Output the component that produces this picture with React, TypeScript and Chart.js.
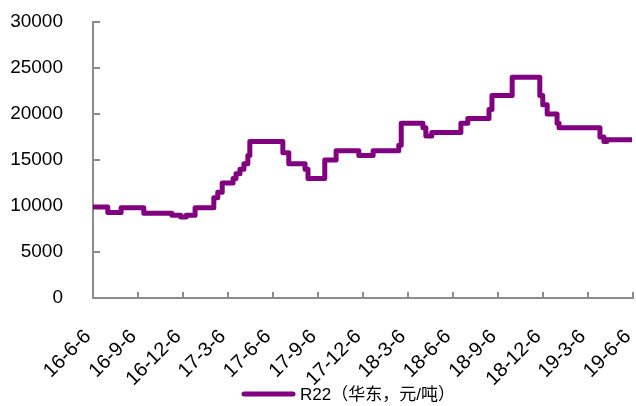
import { useEffect, useRef } from "react";
import { Chart, registerables } from "chart.js";

Chart.register(...registerables);

const START_DATE = "2016-06-06";
const END_DATE = "2019-06-06";

// dates where the price changes (value holds until the next date)
const changeDates = [
  "2016-06-06", "2016-07-06", "2016-08-02", "2016-09-17", "2016-11-13", "2016-12-01",
  "2016-12-12", "2016-12-30", "2017-02-06", "2017-02-14", "2017-02-23", "2017-03-17",
  "2017-03-23", "2017-03-31", "2017-04-08", "2017-04-16", "2017-04-20", "2017-06-26",
  "2017-07-08", "2017-08-10", "2017-08-16", "2017-09-19", "2017-10-12", "2017-11-27",
  "2017-12-26", "2018-02-16", "2018-02-21", "2018-04-06", "2018-04-12", "2018-04-24",
  "2018-06-22", "2018-07-06", "2018-08-18", "2018-08-24", "2018-10-04", "2018-11-29",
  "2018-12-05", "2018-12-14", "2019-01-03", "2019-01-07", "2019-03-31", "2019-04-08",
  "2019-04-14", "2019-06-04",
];

const r22Prices = [
  9900, 9300, 9800, 9200, 9000, 8800,
  9000, 9800, 10900, 11500, 12500, 13000,
  13500, 14000, 14600, 15500, 17000, 15800,
  14600, 14000, 13000, 15000, 16000, 15500,
  16000, 16600, 19000, 18500, 17600, 18000,
  19000, 19500, 20500, 22000, 24000, 22000,
  21000, 20000, 19000, 18500, 17500, 17000,
  17200, 17200,
];

const tickDates = [
  "2016-06-06", "2016-09-06", "2016-12-06", "2017-03-06", "2017-06-06", "2017-09-06",
  "2017-12-06", "2018-03-06", "2018-06-06", "2018-09-06", "2018-12-06", "2019-03-06",
  "2019-06-06",
];
const tickLabels = [
  "16-6-6", "16-9-6", "16-12-6", "17-3-6", "17-6-6", "17-9-6",
  "17-12-6", "18-3-6", "18-6-6", "18-9-6", "18-12-6", "19-3-6", "19-6-6",
];

const seriesName = "R22（华东，元/吨）";
const Y_MIN = 0;
const Y_MAX = 30000;
const Y_STEP = 5000;

const LINE_COLOR = "#800080";
const AXIS_COLOR = "#8c8c8c";
const FONT_FAMILY = "'Liberation Sans', Arial, 'Noto Sans CJK SC', sans-serif";

const dayOf = (d: string) => (Date.parse(d) - Date.parse(START_DATE)) / 86400000;

const innerTicksPlugin = {
  id: "innerTicks",
  beforeDatasetsDraw(chart: any) {
    const ctx = chart.ctx;
    const x = chart.scales.x;
    const y = chart.scales.y;
    ctx.save();
    ctx.strokeStyle = AXIS_COLOR;
    ctx.lineWidth = 2;
    ctx.beginPath();
    for (const t of y.ticks) {
      const py = Math.round(y.getPixelForValue(t.value));
      ctx.moveTo(x.left, py);
      ctx.lineTo(x.left + 7, py);
    }
    for (const t of x.ticks) {
      const px = Math.round(x.getPixelForValue(t.value));
      ctx.moveTo(px, y.bottom);
      ctx.lineTo(px, y.bottom - 6);
    }
    ctx.stroke();
    ctx.restore();
  },
};

const bottomLegendPlugin = {
  id: "bottomLegend",
  afterDraw(chart: any) {
    const ctx = chart.ctx;
    const cy = 394;
    ctx.save();
    ctx.strokeStyle = LINE_COLOR;
    ctx.lineWidth = 5;
    ctx.lineCap = "round";
    ctx.beginPath();
    ctx.moveTo(244, cy);
    ctx.lineTo(293, cy);
    ctx.stroke();
    ctx.fillStyle = "#000";
    ctx.font = `17px ${FONT_FAMILY}`;
    ctx.textBaseline = "middle";
    ctx.textAlign = "left";
    ctx.fillText(seriesName, 300, cy + 1);
    ctx.restore();
  },
};

export default function App() {
  const canvasRef = useRef<HTMLCanvasElement | null>(null);

  useEffect(() => {
    if (!canvasRef.current) return;
    const points = changeDates.map((d, i) => ({ x: dayOf(d), y: r22Prices[i] }));
    const chart = new Chart(canvasRef.current, {
      type: "line",
      data: {
        datasets: [
          {
            label: seriesName,
            data: points,
            borderColor: LINE_COLOR,
            backgroundColor: LINE_COLOR,
            borderWidth: 5,
            pointRadius: 0,
            stepped: true,
            borderJoinStyle: "round",
            borderCapStyle: "butt",
          },
        ],
      },
      options: {
        animation: false,
        responsive: false,
        layout: { padding: { top: 22, right: 3, left: 0, bottom: 0 } },
        plugins: {
          legend: { display: false },
          tooltip: { enabled: false },
        },
        scales: {
          x: {
            type: "linear",
            min: 0,
            max: dayOf(END_DATE),
            grid: { display: false },
            border: { display: true, color: AXIS_COLOR, width: 2 },
            afterBuildTicks: (axis: any) => {
              axis.ticks = tickDates.map((d) => ({ value: dayOf(d) }));
            },
            afterFit: (axis: any) => {
              axis.height = 108;
              axis.paddingLeft = 0;
              axis.paddingRight = 0;
            },
            ticks: {
              autoSkip: false,
              maxRotation: 45,
              minRotation: 45,
              padding: 19,
              labelOffset: -5,
              color: "#000",
              font: { family: FONT_FAMILY, size: 20 },
              callback: (_v: any, i: number) => tickLabels[i],
            },
          },
          y: {
            min: Y_MIN,
            max: Y_MAX,
            grid: { display: false },
            border: { display: true, color: AXIS_COLOR, width: 2 },
            afterFit: (axis: any) => {
              axis.width = 93;
              axis.paddingTop = 0;
              axis.paddingBottom = 0;
            },
            ticks: {
              stepSize: Y_STEP,
              padding: 22,
              color: "#000",
              font: { family: FONT_FAMILY, size: 19 },
              callback: (v: any) => String(v),
            },
          },
        },
      },
      plugins: [innerTicksPlugin, bottomLegendPlugin],
    });
    return () => chart.destroy();
  }, []);

  return (
    <div style={{ position: "absolute", left: 0, top: 0, width: 636, height: 406, background: "#fff" }}>
      <canvas ref={canvasRef} width={636} height={406} style={{ display: "block" }} />
    </div>
  );
}
